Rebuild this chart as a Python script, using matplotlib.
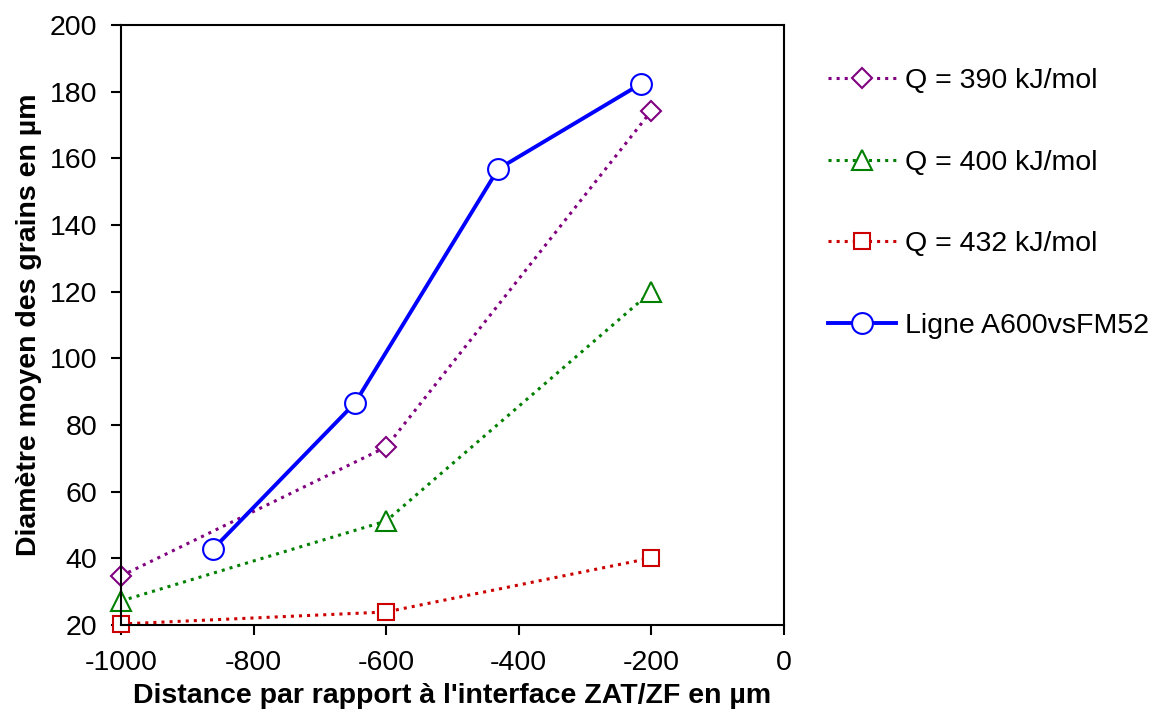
import matplotlib.pyplot as plt

plt.rcParams['font.family'] = ['Liberation Sans', 'DejaVu Sans']
plt.rcParams['axes.unicode_minus'] = False

# Data
x_q = [-1000, -600, -200]
q390 = [34.7, 73.4, 174.2]
q400 = [27.2, 51.2, 120.0]
q432 = [20.3, 23.9, 40.1]

x_ligne = [-861, -647, -431, -216]
ligne = [42.8, 86.6, 156.8, 182.3]

labels = ["Q = 390 kJ/mol", "Q = 400 kJ/mol", "Q = 432 kJ/mol", "Ligne A600vsFM52"]

fig = plt.figure(figsize=(11.59, 7.11), dpi=100)
ax = fig.add_axes([0.1044, 0.121, 0.572, 0.8439])

ax.plot(x_q, q390, linestyle=':', color='#800080', lw=2.2, marker='D', ms=10,
        mfc='white', mec='#800080', mew=1.5, label=labels[0], clip_on=False)
ax.plot(x_q, q400, linestyle=':', color='#008000', lw=2.2, marker='^', ms=14,
        mfc='white', mec='#008000', mew=1.5, label=labels[1], clip_on=False)
ax.plot(x_q, q432, linestyle=':', color='#CC0000', lw=2.2, marker='s', ms=12,
        mfc='white', mec='#CC0000', mew=1.5, label=labels[2], clip_on=False)
ax.plot(x_ligne, ligne, linestyle='-', color='#0000FF', lw=2.8, marker='o', ms=15,
        mfc='white', mec='#0000FF', mew=1.5, label=labels[3], clip_on=False)

ax.set_xlim(-1000, 0)
ax.set_ylim(20, 200)
ax.set_xticks(range(-1000, 1, 200))
ax.set_yticks(range(20, 201, 20))
ax.tick_params(direction='out', length=7, width=1.5, labelsize=20.5)
ax.tick_params(axis='x', pad=11)
ax.tick_params(axis='y', pad=10)
for s in ax.spines.values():
    s.set_linewidth(1.5)

ax.set_xlabel("Distance par rapport à l'interface ZAT/ZF en µm",
              fontsize=20.5, fontweight='bold', labelpad=5)
ax.set_ylabel("Diamètre moyen des grains en µm",
              fontsize=20.5, fontweight='bold', labelpad=6)

fig.legend(loc='upper left', bbox_to_anchor=(0.692, 0.94), frameon=False,
           fontsize=20.5, handlelength=2.4, labelspacing=1.95, handletextpad=0.3)

fig.savefig('out.png', dpi=100)
